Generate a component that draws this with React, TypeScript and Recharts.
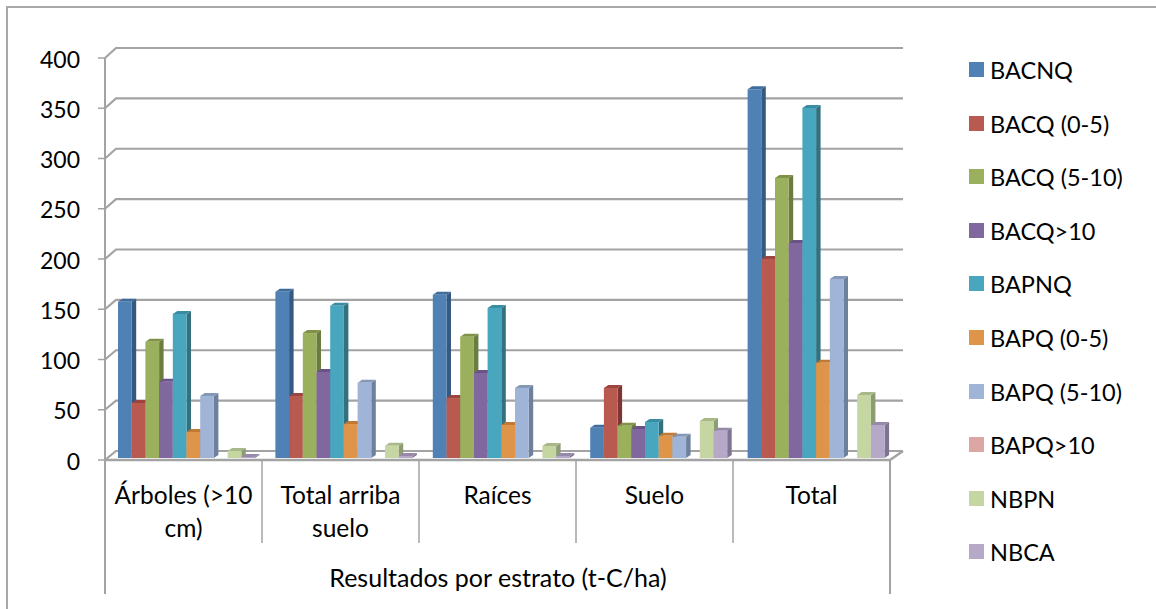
import React from 'react';
import { BarChart, Bar, XAxis, YAxis, CartesianGrid, Legend } from 'recharts';

const categories = ['Árboles (>10 cm)', 'Total arriba suelo', 'Raíces', 'Suelo', 'Total'];
const categoryLines: Record<string, string[]> = {
    'Árboles (>10 cm)': ['Árboles (>10', 'cm)'],
    'Total arriba suelo': ['Total arriba', 'suelo'],
    'Raíces': ['Raíces'],
    'Suelo': ['Suelo'],
    'Total': ['Total'],
};
const yTicks = [0, 50, 100, 150, 200, 250, 300, 350, 400];

const BACNQ = [155, 165, 162, 30, 366];
const BACQ_0_5 = [54.6, 61.5, 59.5, 69.5, 197.5];
const BACQ_5_10 = [115.4, 124, 120.4, 32, 278];
const BACQ_10 = [75.7, 85.4, 84.4, 28.8, 213.4];
const BAPNQ = [143, 151, 149, 35.7, 347.4];
const BAPQ_0_5 = [25.8, 33.7, 32.8, 22, 94.6];
const BAPQ_5_10 = [61.5, 74.7, 69.5, 21, 177.7];
const BAPQ_10 = [null, null, null, null, null];
const NBPN = [7, 12.2, 11.9, 36.7, 62.5];
const NBCA = [1, 2, 2, 27, 32.8];

const series = [
    { name: 'BACNQ', values: BACNQ, color: '#4f81b5', top: '#3f6c9c', side: '#345a82' },
    { name: 'BACQ (0-5)', values: BACQ_0_5, color: '#b85a50', top: '#9c4440', side: '#7f3533' },
    { name: 'BACQ (5-10)', values: BACQ_5_10, color: '#9bb05c', top: '#7f9248', side: '#6b7c40' },
    { name: 'BACQ>10', values: BACQ_10, color: '#80689e', top: '#6a5286', side: '#574470' },
    { name: 'BAPNQ', values: BAPNQ, color: '#48a7bf', top: '#3a8ca2', side: '#33717f' },
    { name: 'BAPQ (0-5)', values: BAPQ_0_5, color: '#df9549', top: '#c07a34', side: '#a5692e' },
    { name: 'BAPQ (5-10)', values: BAPQ_5_10, color: '#a0b4d8', top: '#8499b8', side: '#6d809c' },
    { name: 'BAPQ>10', values: BAPQ_10, color: '#dba6a3', top: '#bb8a88', side: '#a07472' },
    { name: 'NBPN', values: NBPN, color: '#c6d6a2', top: '#a8b888', side: '#8e9c74' },
    { name: 'NBCA', values: NBCA, color: '#b5a9c7', top: '#9689aa', side: '#7e7492' },
];

const chartData = categories.map((category, i) => {
    const row: Record<string, string | number | null> = { category };
    series.forEach((s) => { row[s.name] = s.values[i]; });
    return row;
});

const FONT = 'Lato, sans-serif';
const AXIS_GREY = '#a3a3a3';
const DEPTH_X = 4.5;
const DEPTH_Y = 3;

const tint = (color: string) => series.find((s) => s.color === color);

// the front axis sits a little lower than the wall and is slightly compressed
const frontY = (y: number) => 460 - (458 - y) * 0.9975;

// Excel style 3D column: front face, top and right side
const Column3D = (props: any) => {
    const { x, y, width, height, fill } = props;
    const t = tint(fill);
    if (width == null || height == null) return null;
    return (
        <g>
            <polygon
                points={`${x + width},${y} ${x + width + DEPTH_X},${y - DEPTH_Y} ${x + width + DEPTH_X},${y + height - DEPTH_Y} ${x + width},${y + height}`}
                fill={t?.side}
            />
            <polygon
                points={`${x},${y} ${x + DEPTH_X},${y - DEPTH_Y} ${x + width + DEPTH_X},${y - DEPTH_Y} ${x + width},${y}`}
                fill={t?.top}
            />
            <rect x={x} y={y} width={width} height={height} fill={fill} />
        </g>
    );
};

// Gridline on the back wall, with the diagonal coming from the front axis
const WallLine = (props: any) => {
    const { y1 } = props;
    return (
        <polyline
            points={`105,${frontY(y1)} 116,${y1 - 7} 903,${y1 - 7}`}
            fill="none"
            stroke={AXIS_GREY}
            strokeWidth={2.2}
        />
    );
};

const ValueTick = (props: any) => {
    const { y, payload } = props;
    const fy = frontY(y);
    return (
        <g>
            <line x1={98} x2={105} y1={fy} y2={fy} stroke={AXIS_GREY} strokeWidth={1.5} />
            <text x={80} y={fy + 9.5} textAnchor="end" fontFamily={FONT} fontSize={23} fill="#000">
                {payload.value}
            </text>
        </g>
    );
};

const CategoryTick = (props: any) => {
    const { x, payload, index } = props;
    const lines = categoryLines[payload.value] ?? [payload.value];
    // front axis bands are a bit narrower than the wall bands
    const center = x - 3.2 - 0.4 * index;
    const right = center + 78.5;
    return (
        <g>
            {index === 0 && <line x1={105} x2={105} y1={58} y2={594} stroke={AXIS_GREY} strokeWidth={2} />}
            <line
                x1={right}
                x2={right}
                y1={460}
                y2={index === 4 ? 594 : 543}
                stroke={AXIS_GREY}
                strokeWidth={index === 4 ? 2 : 1.5}
            />
            {index === 4 && (
                <polyline points={`105,460 ${right},460 903,451`} fill="none" stroke={AXIS_GREY} strokeWidth={2.5} />
            )}
            {lines.map((line, i) => (
                <text
                    key={line}
                    x={center}
                    y={504 + i * 33}
                    textAnchor="middle"
                    fontFamily={FONT}
                    fontSize={24.5}
                    fill="#000"
                >
                    {line}
                </text>
            ))}
        </g>
    );
};

const LegendList = ({ payload }: any) => (
    <div style={{ fontFamily: FONT, fontSize: 23.5, color: '#000' }}>
        {(payload ?? []).map((entry: any) => (
            <div key={entry.value} style={{ position: 'relative', height: 53.6 }}>
                <span
                    style={{
                        position: 'absolute',
                        left: 0,
                        top: 0,
                        width: 15,
                        height: 15,
                        backgroundColor: entry.color,
                    }}
                />
                <span style={{ position: 'absolute', left: 21, top: -7, whiteSpace: 'nowrap', lineHeight: '30px' }}>
                    {entry.value}
                </span>
            </div>
        ))}
    </div>
);

export default function App() {
    return (
        <div style={{ position: 'absolute', left: 0, top: 0, width: 1156, height: 609, background: '#fff', overflow: 'hidden' }}>
            <div
                style={{
                    position: 'absolute',
                    left: 6,
                    top: 6,
                    right: 0,
                    bottom: 0,
                    borderLeft: '2px solid #a8a8a8',
                    borderTop: '2px solid #a8a8a8',
                }}
            />
            <div style={{ position: 'absolute', left: 0, top: 0 }}>
                <BarChart
                    width={1156}
                    height={609}
                    data={chartData}
                    margin={{ top: 55, right: 261, bottom: 0, left: 48 }}
                    barSize={13.7}
                    barGap={0}
                >
                    <CartesianGrid vertical={false} horizontal={(p: any) => <WallLine key={p.y1} {...p} />} />
                    <XAxis
                        dataKey="category"
                        height={151}
                        axisLine={false}
                        tickLine={false}
                        interval={0}
                        tick={<CategoryTick />}
                        label={{
                            value: 'Resultados por estrato (t-C/ha)',
                            position: 'insideBottom',
                            offset: 22,
                            dx: -3.5,
                            fontFamily: FONT,
                            fontSize: 25,
                            fill: '#000',
                        }}
                    />
                    <YAxis
                        width={60}
                        domain={[0, 400]}
                        ticks={yTicks}
                        axisLine={false}
                        tickLine={false}
                        tick={<ValueTick />}
                    />
                    <Legend
                        layout="vertical"
                        align="center"
                        verticalAlign="middle"
                        itemSorter={null}
                        content={<LegendList />}
                        wrapperStyle={{ left: 969, top: 62, width: 180, bottom: 'auto', right: 'auto' }}
                    />
                    {series.map((s) => (
                        <Bar
                            key={s.name}
                            dataKey={s.name}
                            fill={s.color}
                            isAnimationActive={false}
                            shape={<Column3D />}
                        />
                    ))}
                </BarChart>
            </div>
        </div>
    );
}
